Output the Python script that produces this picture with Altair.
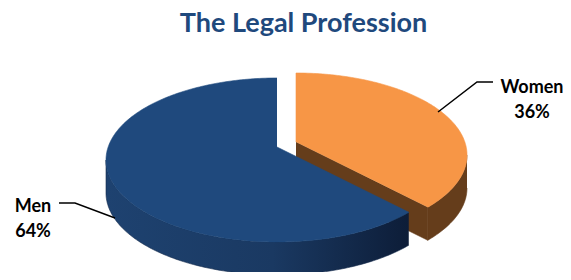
import altair as alt
import numpy as np
import pandas as pd

# ---------------- data ----------------
categories = ["Women", "Men"]
values = [36, 64]
title_text = "The Legal Profession"

# ---------------- style / layout ----------------
TOP_COLORS = {"Women": "#F79646", "Men": "#1F497D"}
SIDE_COLORS = {"Women": "#653D1B", "Men": None}
MEN_SIDE_GRADIENT = alt.Gradient(
    gradient="linear",
    stops=[alt.GradientStop(color="#1E4270", offset=0),
           alt.GradientStop(color="#1A3962", offset=0.55),
           alt.GradientStop(color="#0D1D38", offset=1)],
    x1=0, x2=1, y1=0, y2=0)
TITLE_COLOR = "#1F497D"
FONT = "Lato"

PAD_TOP = 40
CX, CY = 277, 160          # ellipse centre (screen px)
RX, RY = 171, 82           # ellipse radii
VERTEX_DY = -13            # slice apex sits above the ellipse centre (perspective)
DEPTH = 33                 # pie thickness
EXPLODE = {"Women": (19, -5), "Men": (0, 0)}
STEP = 1.0                 # degrees per outline vertex


def arc_pts(cx, cy, a0, a1, drop=0.0):
    n = max(2, int(np.ceil(abs(a1 - a0) / STEP)) + 1)
    t = np.radians(np.linspace(a0, a1, n))
    return list(zip(cx + RX * np.sin(t), cy - RY * np.cos(t) + drop))


rows = []
polys = []
cum = 0.0
slice_geo = []
total = float(sum(values))
for cat, val in zip(categories, values):
    a0 = cum / total * 360.0
    a1 = (cum + val) / total * 360.0
    cum += val
    ox, oy = EXPLODE[cat]
    slice_geo.append((cat, a0, a1, CX + ox, CY + oy))


def add_poly(pid, cat, kind, pts):
    polys.append((pid, cat, kind))
    for i, (x, y) in enumerate(pts):
        rows.append({"poly": pid, "slice": cat, "kind": kind, "i": i, "x": x, "y": y})


for cat, a0, a1, cx, cy in slice_geo:
    vx, vy = cx, cy + VERTEX_DY
    s0, s1 = max(a0, 90.0), min(a1, 270.0)
    if s1 > s0:
        top = arc_pts(cx, cy, s0, s1)
        bot = arc_pts(cx, cy, s1, s0, DEPTH)
        add_poly(f"{cat}-wall", cat, "wall", top + bot)
    for ang, normal in ((a1, a1 + 90.0), (a0, a0 - 90.0)):
        if np.cos(np.radians(normal)) < -1e-6:
            ex, ey = arc_pts(cx, cy, ang, ang)[0]
            add_poly(f"{cat}-cut{int(ang)}", cat, "cut",
                     [(vx, vy), (ex, ey), (ex, ey + DEPTH), (vx, vy + DEPTH)])
    add_poly(f"{cat}-top", cat, "top", [(vx, vy)] + arc_pts(cx, cy, a0, a1))

df = pd.DataFrame(rows)

PLOT_TOP = 8 + PAD_TOP
xs = alt.Scale(domain=[8, 563], nice=False, zero=False)
ys = alt.Scale(domain=[PLOT_TOP, 272], nice=False, zero=False, reverse=True)

base = alt.Chart(df).encode(
    x=alt.X("x:Q", scale=xs, axis=None),
    y=alt.Y("y:Q", scale=ys, axis=None),
    order=alt.Order("i:Q"),
)

draw_order = ["Women-wall", "Women-cut", "Women-top", "Men-wall", "Men-cut", "Men-top"]
layers = []
for key in draw_order:
    for pid, cat, kind in polys:
        if not pid.startswith(key):
            continue
        if kind == "top":
            fill = TOP_COLORS[cat]
        elif cat == "Men":
            fill = MEN_SIDE_GRADIENT
        else:
            fill = SIDE_COLORS[cat]
        stroke = fill if isinstance(fill, str) else "#13294A"
        layers.append(
            base.transform_filter(alt.datum.poly == pid)
            .mark_line(fill=fill, stroke=stroke, strokeWidth=0.6, interpolate="linear")
        )

leaders = pd.DataFrame([
    {"slice": "Women", "i": 0, "x": 438, "y": 112},
    {"slice": "Women", "i": 1, "x": 477, "y": 82},
    {"slice": "Women", "i": 2, "x": 493, "y": 82},
    {"slice": "Men", "i": 0, "x": 59, "y": 203},
    {"slice": "Men", "i": 1, "x": 75, "y": 203},
    {"slice": "Men", "i": 2, "x": 115, "y": 218},
])
leader_layer = alt.Chart(leaders).mark_line(color="black", strokeWidth=1.5).encode(
    x=alt.X("x:Q", scale=xs, axis=None),
    y=alt.Y("y:Q", scale=ys, axis=None),
    detail="slice:N",
    order="i:Q",
)

label_pos = {"Women": (532, 88), "Men": (33, 207)}
labels = pd.DataFrame([
    {"label": f"{c}\n{v}%", "x": label_pos[c][0], "y": label_pos[c][1]}
    for c, v in zip(categories, values)
])
label_layer = alt.Chart(labels).mark_text(
    font=FONT, fontSize=18, fontWeight="bold", color="black",
    lineBreak="\n", lineHeight=25, align="center", baseline="middle",
).encode(
    x=alt.X("x:Q", scale=xs, axis=None),
    y=alt.Y("y:Q", scale=ys, axis=None),
    text="label:N",
)

chart = alt.layer(*layers, leader_layer, label_layer).properties(
    width=555, height=272 - PLOT_TOP,
    padding={"left": 0, "right": 0, "top": PAD_TOP, "bottom": 0},
    autosize="none",
    title=alt.Title(title_text, font=FONT, fontSize=27, fontWeight="bold",
                    color=TITLE_COLOR, anchor="middle", frame="group",
                    dx=18, offset=10),
).configure_view(stroke=None)

chart.save("out.html", embed_options={"renderer": "svg", "actions": False})
